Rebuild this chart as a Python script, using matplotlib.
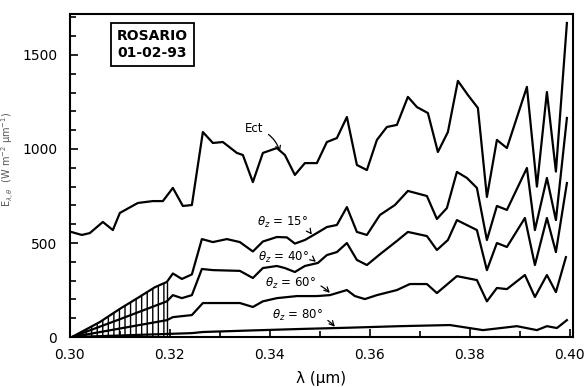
import numpy as np
import matplotlib.pyplot as plt
from matplotlib.ticker import MultipleLocator

# wavelength (um) and irradiance
lam_tot = [0.3004, 0.3024, 0.3040, 0.3066, 0.3086, 0.3100, 0.3136, 0.3166, 0.3186,
           0.3206, 0.3226, 0.3244, 0.3266, 0.3286, 0.3306, 0.3334, 0.3346, 0.3366,
           0.3386, 0.3414, 0.3430, 0.3450, 0.3470, 0.3494, 0.3514, 0.3534, 0.3554,
           0.3574, 0.3594, 0.3614, 0.3634, 0.3654, 0.3676, 0.3694, 0.3716, 0.3736,
           0.3756, 0.3776, 0.3796, 0.3816, 0.3834, 0.3854, 0.3874, 0.3914, 0.3934,
           0.3954, 0.3972, 0.3994]
e_tot = [558, 543, 553, 612, 569, 660, 713, 723, 723,
         793, 697, 702, 1090, 1032, 1037, 979, 968, 824,
         979, 1005, 968, 862, 925, 925, 1037, 1058, 1170,
         915, 888, 1048, 1117, 1128, 1277, 1223, 1191, 984,
         1090, 1362, 1287, 1218, 745, 1048, 1005, 1330, 800,
         1303, 880, 1670]

lam_15 = [0.3004, 0.3060, 0.3100, 0.3140, 0.3170, 0.3194, 0.3206, 0.3224, 0.3244,
          0.3264, 0.3286, 0.3314, 0.3340, 0.3366, 0.3386, 0.3414, 0.3434, 0.3450,
          0.3470, 0.3494, 0.3514, 0.3534, 0.3554, 0.3574, 0.3594, 0.3620, 0.3650,
          0.3676, 0.3714, 0.3734, 0.3754, 0.3774, 0.3794, 0.3814, 0.3834, 0.3854,
          0.3874, 0.3914, 0.3930, 0.3954, 0.3972, 0.3994]
e_15 = [0, 80, 150, 215, 265, 293, 338, 309, 333,
        521, 505, 521, 505, 455, 508, 532, 530, 497,
        516, 553, 585, 596, 691, 559, 543, 649, 702,
        777, 750, 628, 686, 878, 846, 793, 516, 697,
        676, 899, 569, 846, 622, 1165]

lam_40 = [0.3004, 0.3100, 0.3194, 0.3206, 0.3224, 0.3244, 0.3264, 0.3286, 0.3340,
          0.3366, 0.3386, 0.3414, 0.3430, 0.3450, 0.3470, 0.3496, 0.3514, 0.3534,
          0.3554, 0.3574, 0.3594, 0.3620, 0.3654, 0.3676, 0.3714, 0.3734, 0.3756,
          0.3774, 0.3814, 0.3834, 0.3854, 0.3874, 0.3910, 0.3930, 0.3954, 0.3972,
          0.3994]
e_40 = [0, 95, 190, 223, 207, 223, 362, 356, 352,
        314, 367, 378, 367, 346, 378, 394, 436, 452,
        500, 410, 383, 440, 511, 559, 537, 463, 516,
        622, 569, 356, 500, 479, 633, 383, 633, 452,
        819]

lam_60 = [0.3004, 0.3194, 0.3206, 0.3244, 0.3266, 0.3294, 0.3340, 0.3366, 0.3386,
          0.3414, 0.3454, 0.3494, 0.3520, 0.3554, 0.3570, 0.3590, 0.3614, 0.3654,
          0.3680, 0.3714, 0.3734, 0.3774, 0.3814, 0.3834, 0.3854, 0.3874, 0.3910,
          0.3930, 0.3954, 0.3972, 0.3992]
e_60 = [0, 90, 106, 117, 181, 181, 181, 160, 190,
        207, 218, 218, 223, 250, 218, 202, 223, 250,
        282, 282, 234, 324, 303, 190, 261, 255, 330,
        213, 330, 239, 425]

lam_80 = [0.3004, 0.3244, 0.3266, 0.3360, 0.3460, 0.3560, 0.3660, 0.3760, 0.3826,
          0.3894, 0.3934, 0.3954, 0.3974, 0.3994]
e_80 = [0, 21, 27, 35, 43, 50, 58, 64, 37,
        58, 37, 58, 48, 90]

fig = plt.figure(figsize=(5.87, 3.87), dpi=100)
ax = fig.add_axes([0.119, 0.129, 0.857, 0.835])

lw = 1.6
ax.plot(lam_tot, e_tot, color='black', lw=lw)
ax.plot(lam_15, e_15, color='black', lw=lw)
ax.plot(lam_40, e_40, color='black', lw=lw)
ax.plot(lam_60, e_60, color='black', lw=lw)
ax.plot(lam_80, e_80, color='black', lw=lw)

# hatched UV-B band under the 15 deg curve
x15 = np.array(lam_15)
y15 = np.array(e_15)
m = x15 <= 0.3195
ax.fill_between(x15[m], 0, y15[m], facecolor='none', edgecolor='black',
                hatch='|||', linewidth=0)
ax.vlines(x15[m][-1], 0, y15[m][-1], color='black', lw=1.0)

ax.set_xlim(0.30, 0.4006)
ax.set_ylim(0, 1718)
ax.set_xticks([0.30, 0.32, 0.34, 0.36, 0.38, 0.40])
ax.set_xticklabels(['0.30', '0.32', '0.34', '0.36', '0.38', '0.40'])
ax.set_yticks([0, 500, 1000, 1500])
ax.xaxis.set_minor_locator(MultipleLocator(0.01))
ax.yaxis.set_minor_locator(MultipleLocator(100))
ax.tick_params(which='both', direction='in', width=1.2, labelsize=10)
ax.tick_params(which='major', length=6)
ax.tick_params(which='minor', length=4)
ax.tick_params(axis='x', pad=8)
ax.tick_params(axis='y', pad=9)
for s in ax.spines.values():
    s.set_linewidth(1.5)

ax.set_xlabel('λ (μm)', fontsize=11, labelpad=6)
ax.set_ylabel('E$_{\\lambda,\\theta}$  (W m$^{-2}$ μm$^{-1}$)', fontsize=7, color='#555555')
ax.yaxis.set_label_coords(-0.108, 0.55)

ax.text(0.3165, 1555, 'ROSARIO\n01-02-93', ha='center', va='center', fontsize=10,
        fontweight='bold', linespacing=1.3,
        bbox=dict(boxstyle='square,pad=0.45', facecolor='white', edgecolor='black', lw=1.3))

labels = [
    ('Ect', (0.3350, 1110), (0.3420, 985)),
    ('$\\theta_z$ = 15°', (0.3374, 610), (0.3484, 545)),
    ('$\\theta_z$ = 40°', (0.3376, 425), (0.3492, 400)),
    ('$\\theta_z$ = 60°', (0.3390, 285), (0.3520, 235)),
    ('$\\theta_z$ = 80°', (0.3404, 115), (0.3530, 55)),
]
for txt, xy_text, xy_tip in labels:
    ax.annotate(txt, xy=xy_tip, xytext=xy_text, fontsize=8.5, ha='left', va='center',
                arrowprops=dict(arrowstyle='->', color='black', lw=0.9,
                                connectionstyle='arc3,rad=-0.3', shrinkA=2, shrinkB=0))

fig.savefig('out.png', dpi=100)
